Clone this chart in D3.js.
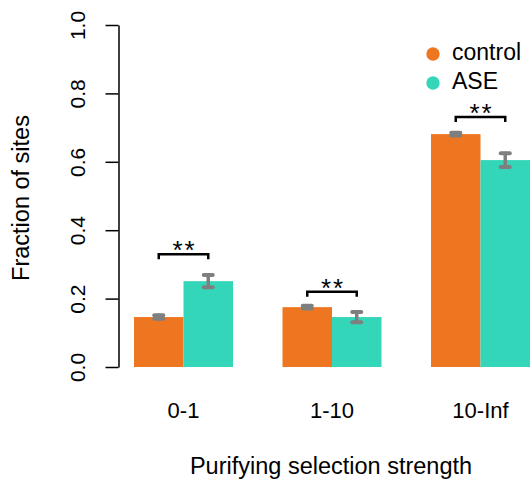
<!DOCTYPE html>
<html>
<head>
<meta charset="utf-8">
<script src="https://cdn.jsdelivr.net/npm/d3@7"></script>
<style>
  body { margin: 0; background: #fff; }
  svg { display: block; font-family: "Liberation Sans", Arial, Helvetica, sans-serif; }
</style>
</head>
<body>
<div class="graph"></div>
<script>
// data
const categories = ["0-1", "1-10", "10-Inf"];
const groups = ["control", "ASE"];
const controlValues = [0.146, 0.175, 0.681];
const aseValues = [0.251, 0.146, 0.605];
const controlErrors = [0.005, 0.004, 0.004];
const aseErrors = [0.018, 0.015, 0.02];
const sigLabels = ["**", "**", "**"];
const sigHeights = [0.33, 0.22, 0.731];
const yTicks = [0, 0.2, 0.4, 0.6, 0.8, 1.0];

const colors = { control: "#EE7621", ASE: "#34D6B9" };
const width = 532, height = 481;

const svg = d3.select(".graph").append("svg")
  .attr("width", width)
  .attr("height", height);

const y = d3.scaleLinear().domain([0, 1]).range([367, 25]);
const x0 = d3.scaleBand().domain(categories).range([134, 530]).paddingInner(1 / 3).paddingOuter(0);
const x1 = d3.scaleBand().domain(groups).range([0, x0.bandwidth()]);

const rows = categories.map((c, i) => ({
  cat: c,
  bars: [
    { key: "control", value: controlValues[i], err: controlErrors[i] },
    { key: "ASE", value: aseValues[i], err: aseErrors[i] }
  ],
  sig: sigLabels[i],
  sigY: sigHeights[i]
}));

// y axis
const yAxis = d3.axisLeft(y).tickValues(yTicks).tickSize(13).tickSizeOuter(0)
  .tickFormat(d3.format(".1f"));
const gy = svg.append("g").attr("transform", "translate(118.5,0)").call(yAxis)
  .attr("font-size", 21)
  .attr("font-family", "'Liberation Sans', Arial, sans-serif");
gy.select(".domain").attr("stroke", "#000").attr("stroke-width", 1.5);
gy.selectAll(".tick line").attr("stroke", "#000").attr("stroke-width", 1.5);
gy.selectAll(".tick text")
  .attr("transform", "rotate(-90)")
  .attr("x", 0)
  .attr("y", -34)
  .attr("dy", 0)
  .attr("text-anchor", "middle")
  .attr("fill", "#000");

// bars
const g = svg.append("g").selectAll("g").data(rows).join("g")
  .attr("transform", d => `translate(${x0(d.cat)},0)`);

g.selectAll("rect").data(d => d.bars).join("rect")
  .attr("x", d => x1(d.key))
  .attr("y", d => y(d.value))
  .attr("width", x1.bandwidth())
  .attr("height", d => y(0) - y(d.value))
  .attr("fill", d => colors[d.key]);

// error bars
const eb = g.selectAll("g.err").data(d => d.bars).join("g")
  .attr("class", "err")
  .attr("transform", d => `translate(${x1(d.key) + x1.bandwidth() / 2},0)`)
  .attr("stroke", "#7F7F7F")
  .attr("stroke-linecap", "round");
eb.append("line")
  .attr("y1", d => y(d.value - d.err)).attr("y2", d => y(d.value + d.err))
  .attr("stroke-width", 3.5);
eb.append("line")
  .attr("x1", -4.5).attr("x2", 4.5)
  .attr("y1", d => y(d.value + d.err)).attr("y2", d => y(d.value + d.err))
  .attr("stroke-width", 4);
eb.append("line")
  .attr("x1", -4.5).attr("x2", 4.5)
  .attr("y1", d => y(d.value - d.err)).attr("y2", d => y(d.value - d.err))
  .attr("stroke-width", 4);

// significance brackets
const xa = x1("control") + x1.bandwidth() / 2;
const xb = x1("ASE") + x1.bandwidth() / 2;
g.append("path")
  .attr("d", d => `M${xa},${y(d.sigY) + 5}V${y(d.sigY)}H${xb}V${y(d.sigY) + 5}`)
  .attr("fill", "none")
  .attr("stroke", "#000")
  .attr("stroke-width", 2.5);
g.append("text")
  .attr("x", x0.bandwidth() / 2 + 1)
  .attr("y", d => y(d.sigY) + 5)
  .attr("text-anchor", "middle")
  .attr("letter-spacing", 2)
  .style("font-size", "26px")
  .text(d => d.sig);

// x labels
svg.append("g").selectAll("text").data(categories).join("text")
  .attr("x", d => x0(d) + x0.bandwidth() / 2)
  .attr("y", 418)
  .attr("text-anchor", "middle")
  .style("font-size", "22px")
  .text(d => d);

// axis titles
svg.append("text")
  .attr("x", 331)
  .attr("y", 474)
  .attr("text-anchor", "middle")
  .style("font-size", "23.5px")
  .text("Purifying selection strength");

svg.append("text")
  .attr("transform", "translate(29,198) rotate(-90)")
  .attr("text-anchor", "middle")
  .style("font-size", "23.5px")
  .text("Fraction of sites");

// legend
const legend = svg.append("g").selectAll("g").data(groups).join("g")
  .attr("transform", (d, i) => `translate(433,${54 + i * 29})`);
legend.append("circle").attr("r", 6.7).attr("fill", d => colors[d]);
legend.append("text")
  .attr("x", 19)
  .attr("y", 6)
  .style("font-size", "23px")
  .text(d => d);
</script>
</body>
</html>
